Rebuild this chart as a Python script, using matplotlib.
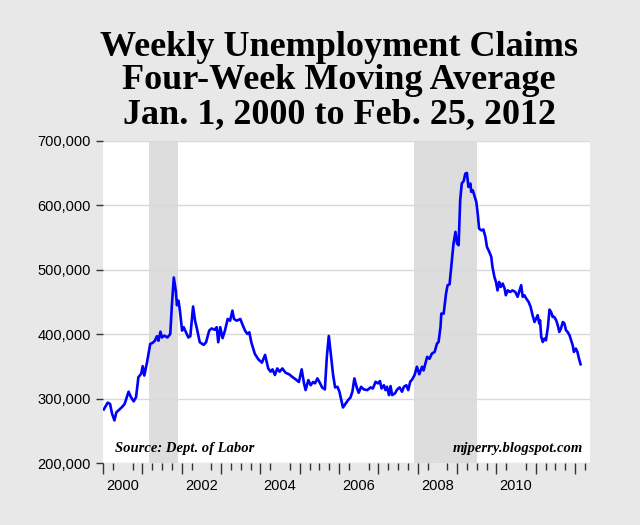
import matplotlib
matplotlib.use('Agg')
import matplotlib.pyplot as plt
from matplotlib.ticker import FuncFormatter

# decimal year, claims (thousands)
years = [2000.02, 2000.12, 2000.18, 2000.23, 2000.29, 2000.34, 2000.42, 2000.48, 2000.55, 2000.65,
         2000.71, 2000.78, 2000.84, 2000.90, 2000.97, 2001.01, 2001.05, 2001.12, 2001.20, 2001.26,
         2001.32, 2001.37, 2001.41, 2001.46, 2001.50, 2001.56, 2001.64, 2001.71, 2001.75, 2001.80,
         2001.85, 2001.88, 2001.92, 2001.96, 2002.01, 2002.05, 2002.11, 2002.17, 2002.22, 2002.29,
         2002.34, 2002.39, 2002.46, 2002.56, 2002.62, 2002.70, 2002.76, 2002.84, 2002.89, 2002.93,
         2002.98, 2003.04, 2003.10, 2003.17, 2003.23, 2003.29, 2003.33, 2003.40, 2003.49, 2003.55,
         2003.61, 2003.67, 2003.72, 2003.77, 2003.86, 2003.95, 2004.04, 2004.12, 2004.20, 2004.26,
         2004.31, 2004.37, 2004.43, 2004.49, 2004.56, 2004.64, 2004.73, 2004.81, 2004.90, 2004.98,
         2005.05, 2005.11, 2005.15, 2005.22, 2005.28, 2005.34, 2005.39, 2005.45, 2005.51, 2005.57,
         2005.64, 2005.69, 2005.74, 2005.79, 2005.85, 2005.90, 2005.96, 2006.01, 2006.10, 2006.17,
         2006.23, 2006.29, 2006.34, 2006.39, 2006.45, 2006.50, 2006.56, 2006.63, 2006.72, 2006.80,
         2006.86, 2006.93, 2006.99, 2007.04, 2007.08, 2007.14, 2007.18, 2007.22, 2007.27, 2007.31,
         2007.35, 2007.42, 2007.48, 2007.54, 2007.60, 2007.65, 2007.71, 2007.76, 2007.81, 2007.86,
         2007.92, 2007.98, 2008.04, 2008.11, 2008.15, 2008.24, 2008.30, 2008.36, 2008.43, 2008.49,
         2008.53, 2008.58, 2008.60, 2008.66, 2008.72, 2008.76, 2008.81, 2008.87, 2008.91, 2008.96,
         2009.00, 2009.04, 2009.08, 2009.12, 2009.17, 2009.21, 2009.25, 2009.29, 2009.34, 2009.36,
         2009.40, 2009.45, 2009.49, 2009.53, 2009.56, 2009.62, 2009.67, 2009.72, 2009.76, 2009.82,
         2009.87, 2009.90, 2009.95, 2009.99, 2010.03, 2010.07, 2010.11, 2010.16, 2010.21, 2010.24,
         2010.29, 2010.35, 2010.41, 2010.48, 2010.54, 2010.59, 2010.63, 2010.67, 2010.71, 2010.76,
         2010.82, 2010.87, 2010.92, 2010.97, 2011.01, 2011.05, 2011.09, 2011.11, 2011.14, 2011.18,
         2011.22, 2011.26, 2011.31, 2011.35, 2011.39, 2011.43, 2011.47, 2011.52, 2011.56, 2011.60,
         2011.64, 2011.69, 2011.73, 2011.77, 2011.81, 2011.86, 2011.90, 2011.94, 2011.97, 2012.02,
         2012.06, 2012.10, 2012.14]
claims = [283.5, 294, 292, 277, 266.5, 279, 283.5, 287, 292, 311,
          302.5, 296, 302.5, 333.5, 338.7, 350.5, 336, 356.7, 385, 386.6,
          390, 397, 390, 404, 395, 398, 395, 400.5, 444, 488,
          467.5, 445, 452, 434, 405.7, 411, 403, 395, 397, 443,
          421, 408, 387.6, 383.5, 387.6, 405.7, 409, 407, 411, 387.6,
          411, 394, 405.7, 423.7, 421, 436.6, 423.7, 421, 423.7, 414.4,
          405.7, 400.5, 403, 387.6, 369.6, 361, 356, 368, 347, 342,
          345.6, 336.8, 347, 342, 347, 340.4, 338, 334, 330, 326,
          345.6, 324, 313.5, 329, 321, 326, 324, 331.6, 325, 317.6,
          314.5, 365, 397.4, 370.4, 336.8, 317.6, 318.6, 311, 286.5, 292.7,
          298, 302, 311, 331.6, 317.6, 309.3, 318.6, 314.5, 313.5, 317.6,
          316, 326.4, 323.8, 327.5, 316, 321, 313.5, 318.6, 305.7, 319.7,
          305.7, 308.3, 314.5, 317.6, 311, 318.6, 321, 313.5, 326.4, 330,
          336.8, 349.7, 338, 349.7, 344, 365, 362, 370, 372.6, 385.5,
          388, 411.4, 432, 432, 463, 476, 477.5, 514.7, 540.6, 558.7,
          540.6, 538, 607.8, 633.6, 637.7, 649, 650, 628.4, 633.6, 620.7,
          623.3, 613, 605, 584.5, 563.8, 561, 562.3, 551, 535.4, 527.6,
          520, 504.4, 488.9, 481, 468, 481, 473.4, 478.6, 470.8, 460.5,
          468, 465.6, 468, 465.6, 458, 468, 476, 458, 460.5, 455.3,
          450, 442.4, 429.5, 419, 424.3, 429.5, 416.5, 421.7, 396, 388,
          393.3, 390.7, 411.4, 438.2, 434.6, 426.9, 426.9, 421.7, 414, 403.6,
          408.8, 419, 416.5, 406.2, 403.6, 398.4, 390.7, 383, 372.6, 377.8,
          372.6, 362.3, 353.5]

recessions = [(2001 + 2/12, 2001 + 11/12), (2007 + 11/12, 2009.5)]
label_years = [2000, 2002, 2004, 2006, 2008, 2010]

bg = '#e8e8e8'
fig = plt.figure(figsize=(6.4, 5.25), dpi=100, facecolor=bg)
ax = fig.add_axes([103/640, (525-463.3)/525, (590-103)/640, (463.3-140.7)/525])
ax.set_facecolor('white')

for a, b in recessions:
    ax.axvspan(a, b, color='#dddddd', lw=0, zorder=1)

ax.plot(years, [c * 1000 for c in claims], color='#0000ff', lw=1.9, zorder=3)

ax.set_xlim(2000.0, 2012.38)
ax.set_ylim(200000, 700000)
ax.set_yticks(range(200000, 700001, 100000))
ax.yaxis.set_major_formatter(FuncFormatter(lambda v, p: f'{int(v):,}'))
ax.grid(axis='y', color='#d9d9d9', lw=1, zorder=0)
for s in ax.spines.values():
    s.set_visible(False)
ax.tick_params(axis='y', length=5, width=1, color='#333333', pad=4,
               labelsize=10.5, labelcolor='black')

# labels at mid-year, quarter ticks as minor
ax.set_xticks([y + 0.5 for y in label_years])
ax.set_xticklabels([str(y) for y in label_years])
ax.set_xticks([2000 + q / 4 for q in range(1, 50) if q % 4], minor=True)
ax.tick_params(axis='x', which='major', length=0, pad=11, labelsize=10.5)
ax.tick_params(axis='x', which='minor', length=5, width=1, color='#333333')

# long ticks at the start of each year
sec = ax.secondary_xaxis('bottom')
sec.set_xticks(range(2000, 2013))
sec.tick_params(length=8, width=1, color='#333333', labelbottom=False)
sec.spines['bottom'].set_visible(False)

for t in ax.get_xticklabels() + ax.get_yticklabels():
    t.set_fontfamily('Liberation Sans')

fig.text(0.53, 0.846, 'Weekly Unemployment Claims\nFour-Week Moving Average\nJan. 1, 2000 to Feb. 25, 2012',
         ha='center', va='center', fontsize=26, fontweight='bold',
         family='Liberation Serif', linespacing=1.02)

ax.text(0.025, 0.035, 'Source: Dept. of Labor', transform=ax.transAxes,
        fontsize=10.5, fontweight='bold', style='italic', family='Liberation Serif', zorder=4)
ax.text(0.985, 0.035, 'mjperry.blogspot.com', transform=ax.transAxes, ha='right',
        fontsize=10.5, fontweight='bold', style='italic', family='Liberation Serif', zorder=4)

fig.savefig('out.png', dpi=100, facecolor=bg)
